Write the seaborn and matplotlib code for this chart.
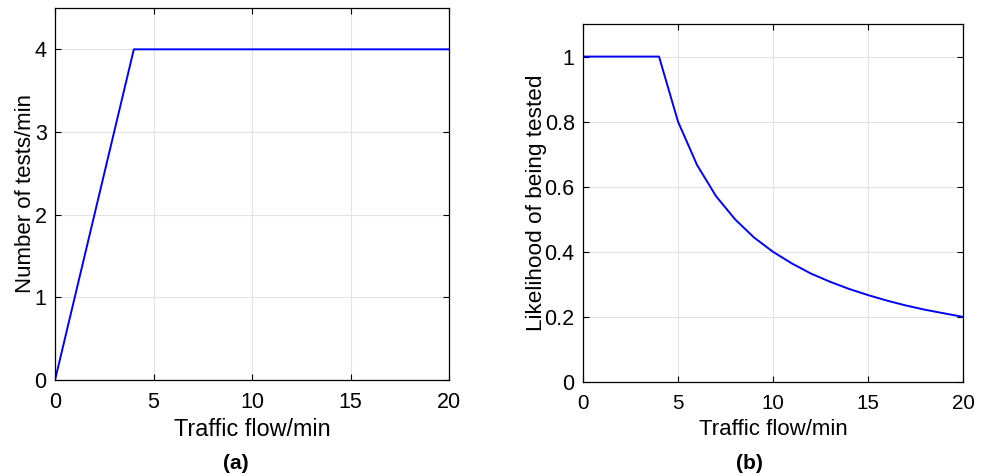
import seaborn as sns
import matplotlib.pyplot as plt
import pandas as pd

# traffic flow per minute (x axis for both panels)
flow = [0, 1, 2, 3, 4, 5, 6, 7, 8, 9, 10, 11, 12, 13, 14, 15, 16, 17, 18, 19, 20]
# (a) tests per minute
tests = [0, 1, 2, 3, 4, 4, 4, 4, 4, 4, 4, 4, 4, 4, 4, 4, 4, 4, 4, 4, 4]
# (b) likelihood of being tested
likelihood = [1, 1, 1, 1, 1, 0.8, 0.667, 0.571, 0.5, 0.444, 0.4, 0.364, 0.333,
              0.308, 0.286, 0.267, 0.25, 0.235, 0.222, 0.211, 0.2]

df = pd.DataFrame({'flow': flow, 'tests': tests, 'likelihood': likelihood})

sns.set_style("ticks")
plt.rcParams['font.family'] = ['Liberation Sans', 'DejaVu Sans']
plt.rcParams['text.color'] = 'black'
plt.rcParams['axes.labelcolor'] = 'black'
plt.rcParams['xtick.color'] = 'black'
plt.rcParams['ytick.color'] = 'black'

fig = plt.figure(figsize=(9.81, 4.76), dpi=100)
ax1 = fig.add_axes([0.0561, 0.2017, 0.4016, 0.7815])
ax2 = fig.add_axes([0.5943, 0.1975, 0.3874, 0.752])

sns.lineplot(data=df, x='flow', y='tests', ax=ax1, color='#0000ff', linewidth=1.4)
sns.lineplot(data=df, x='flow', y='likelihood', ax=ax2, color='#0000ff', linewidth=1.4)

for ax in (ax1, ax2):
    ax.set_xlim(0, 20)
    ax.set_xticks([0, 5, 10, 15, 20])
    ax.grid(True, color='#e3e3e3', linewidth=0.8)
    ax.tick_params(direction='in', length=4, width=0.8, top=True, right=True)
    ax.tick_params(axis='x', pad=9)
    ax.tick_params(axis='y', pad=6)
    for s in ax.spines.values():
        s.set_visible(True)
        s.set_color('black')
        s.set_linewidth(0.9)

ax1.set_ylim(0, 4.5)
ax1.set_yticks([0, 1, 2, 3, 4])
ax1.tick_params(labelsize=15.5)
ax1.set_ylabel('Number of tests/min', fontsize=16, labelpad=-1)
ax1.set_xlabel('Traffic flow/min', fontsize=16.8, labelpad=3)

ax2.set_ylim(0, 1.1)
ax2.set_yticks([0, 0.2, 0.4, 0.6, 0.8, 1])
ax2.set_yticklabels(['0', '0.2', '0.4', '0.6', '0.8', '1'])
ax2.tick_params(axis='x', labelsize=14.8)
ax2.tick_params(axis='y', labelsize=15.5)
ax2.set_ylabel('Likelihood of being tested', fontsize=16.2, labelpad=-2)
ax2.set_xlabel('Traffic flow/min', fontsize=16, labelpad=4)

fig.text(0.240, 0.027, '(a)', ha='center', va='center', fontsize=15, fontweight='bold')
fig.text(0.764, 0.027, '(b)', ha='center', va='center', fontsize=15, fontweight='bold')

plt.savefig('out.png', dpi=100)
